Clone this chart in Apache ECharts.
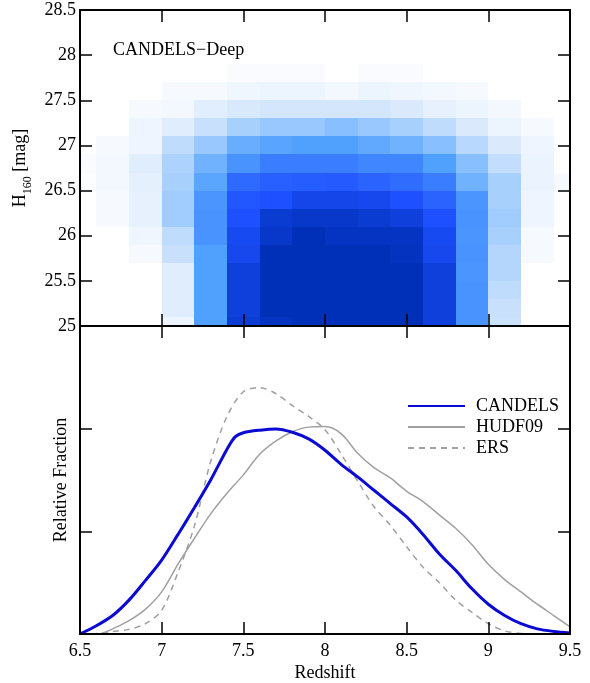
<!DOCTYPE html>
<html>
<head>
<meta charset="UTF-8">
<title>CANDELS redshift</title>
<script src="https://cdn.jsdelivr.net/npm/echarts@6/dist/echarts.min.js"></script>
<style>
  html, body { margin: 0; padding: 0; background: #fff; }
  #main { width: 590px; height: 683px; }
</style>
</head>
<body>
<div id="main"></div>
<script>
// heatmap cell centres (redshift columns, magnitude rows)
var zCenters = [6.5, 6.7, 6.9, 7.1, 7.3, 7.5, 7.7, 7.9, 8.1, 8.3, 8.5, 8.7, 8.9, 9.1, 9.3, 9.5];
var magCenters = [27.8, 27.6, 27.4, 27.2, 27.0, 26.8, 26.6, 26.4, 26.2, 26.0, 25.8, 25.6, 25.4, 25.2, 25.0];
// completeness level per cell, one row per magnitude (0 = white, 5 = darkest)
var levels = [
  [0, 0, 0, 0, 0, 0.15, 0.15, 0.15, 0, 0.15, 0.15, 0, 0, 0, 0, 0],
  [0, 0, 0, 0.2, 0.2, 0.35, 0.45, 0.45, 0.3, 0.45, 0.35, 0.3, 0.2, 0, 0, 0],
  [0, 0, 0.2, 0.3, 0.7, 0.9, 1.0, 1.0, 1.0, 1.0, 0.85, 0.55, 0.45, 0.3, 0, 0],
  [0, 0, 0.4, 0.72, 1.2, 1.73, 2.0, 2.0, 2.22, 2.0, 1.73, 1.33, 0.86, 0.45, 0.2, 0],
  [0, 0.2, 0.4, 1.33, 2.0, 2.67, 2.89, 3.0, 3.0, 2.78, 2.56, 2.22, 1.47, 0.86, 0.4, 0],
  [0.15, 0.3, 0.72, 1.67, 2.56, 3.16, 3.44, 3.44, 3.44, 3.32, 3.32, 3.0, 2.22, 1.3, 0.5, 0],
  [0.1, 0.3, 0.6, 1.73, 2.86, 3.68, 3.8, 3.84, 3.88, 3.76, 3.64, 3.44, 2.56, 1.73, 0.5, 0.2],
  [0, 0.2, 0.55, 1.87, 3.12, 3.92, 4.0, 4.3, 4.3, 4.25, 4.0, 3.76, 3.12, 1.73, 0.4, 0],
  [0, 0.2, 0.55, 1.87, 3.16, 4.0, 4.63, 4.75, 4.75, 4.63, 4.5, 4.0, 3.16, 1.87, 0.4, 0],
  [0, 0, 0.35, 1.33, 3.16, 4.19, 4.75, 5.0, 4.87, 4.87, 4.87, 4.19, 3.12, 1.73, 0.2, 0],
  [0, 0, 0.2, 1.2, 3.0, 4.25, 5.0, 5.0, 5.0, 5.0, 4.9, 4.25, 3.16, 1.53, 0.2, 0],
  [0, 0, 0, 0.72, 3.0, 4.5, 5.0, 5.0, 5.0, 5.0, 5.0, 4.5, 3.12, 1.53, 0, 0],
  [0, 0, 0, 0.72, 3.0, 4.5, 5.0, 5.0, 5.0, 5.0, 5.0, 4.5, 3.16, 1.33, 0, 0],
  [0, 0, 0, 0.72, 3.0, 4.5, 5.0, 5.0, 5.0, 5.0, 5.0, 4.5, 3.16, 1.2, 0, 0],
  [0, 0, 0, 0.45, 3.0, 4.62, 4.87, 5.0, 5.0, 5.0, 5.0, 4.5, 3.16, 1.15, 0, 0]
];

// redshift distributions [z, relative fraction]
var candels = [
  [6.5, 0], [6.6, 0.08], [6.7, 0.18], [6.8, 0.33], [6.9, 0.52], [7.0, 0.72], [7.1, 0.97],
  [7.2, 1.23], [7.3, 1.5], [7.4, 1.8], [7.45, 1.92], [7.5, 1.96], [7.6, 1.985], [7.7, 1.997],
  [7.8, 1.965], [7.9, 1.9], [8.0, 1.79], [8.1, 1.65], [8.2, 1.53], [8.3, 1.4], [8.4, 1.27],
  [8.5, 1.14], [8.6, 0.97], [8.7, 0.78], [8.8, 0.62], [8.9, 0.44], [9.0, 0.29], [9.1, 0.18],
  [9.2, 0.1], [9.3, 0.05], [9.4, 0.025], [9.5, 0.01]
];
var hudf09 = [
  [6.63, 0], [6.7, 0.05], [6.8, 0.13], [6.9, 0.24], [7.0, 0.41], [7.1, 0.68], [7.2, 0.93],
  [7.3, 1.17], [7.4, 1.37], [7.5, 1.55], [7.6, 1.75], [7.7, 1.88], [7.8, 1.97], [7.9, 2.015],
  [8.0, 2.02], [8.1, 1.95], [8.2, 1.76], [8.3, 1.62], [8.4, 1.52], [8.5, 1.39], [8.6, 1.29],
  [8.7, 1.16], [8.8, 1.03], [8.9, 0.87], [9.0, 0.68], [9.1, 0.53], [9.2, 0.41], [9.3, 0.29],
  [9.4, 0.18], [9.5, 0.07]
];
var ers = [
  [6.5, 0], [6.6, 0.005], [6.7, 0.025], [6.8, 0.045], [6.9, 0.1], [7.0, 0.23], [7.1, 0.6],
  [7.2, 1.05], [7.3, 1.68], [7.4, 2.12], [7.5, 2.36], [7.6, 2.4], [7.7, 2.34], [7.8, 2.225],
  [7.9, 2.12], [8.0, 1.99], [8.1, 1.75], [8.2, 1.49], [8.3, 1.24], [8.4, 1.06], [8.5, 0.85],
  [8.6, 0.65], [8.7, 0.5], [8.8, 0.33], [8.9, 0.21], [9.0, 0.1], [9.1, 0.03], [9.2, 0.005],
  [9.3, 0], [9.5, 0]
];

var CELL_W = 0.2, CELL_H = 0.2;
var FONT = 'Liberation Serif';

var cells = [];
magCenters.forEach(function (m, i) {
  zCenters.forEach(function (z, j) {
    if (levels[i][j] > 0) cells.push([z, m, levels[i][j]]);
  });
});

function renderCell(params, api) {
  var x = api.value(0), y = api.value(1);
  var p0 = api.coord([x - CELL_W / 2, y + CELL_H / 2]);
  var p1 = api.coord([x + CELL_W / 2, y - CELL_H / 2]);
  var x0 = Math.round(p0[0]), y0 = Math.round(p0[1]);
  var rect = echarts.graphic.clipRectByRect(
    { x: x0, y: y0, width: Math.round(p1[0]) - x0, height: Math.round(p1[1]) - y0 },
    { x: params.coordSys.x, y: params.coordSys.y, width: params.coordSys.width, height: params.coordSys.height }
  );
  return rect && { type: 'rect', shape: rect, style: { fill: api.visual('color') } };
}

var axisLine = { show: true, onZero: false, lineStyle: { color: '#000', width: 2 } };
var tick = { show: true, inside: true, length: 12, lineStyle: { color: '#000', width: 1.5 } };
var lbl = { fontFamily: FONT, fontSize: 18, color: '#000' };

function xAx(grid, pos, showLabel, extra) {
  return Object.assign({
    type: 'value', gridIndex: grid, position: pos, min: 6.5, max: 9.5, interval: 0.5,
    axisLine: axisLine, axisTick: tick, splitLine: { show: false }, z: 10,
    axisLabel: Object.assign({ show: showLabel, margin: 8, showMinLabel: true, showMaxLabel: true }, lbl)
  }, extra || {});
}
function yAx(grid, pos, min, max, interval, showLabel, extra) {
  return Object.assign({
    type: 'value', gridIndex: grid, position: pos, min: min, max: max, interval: interval,
    axisLine: axisLine, axisTick: tick, splitLine: { show: false }, z: 10,
    axisLabel: Object.assign({ show: showLabel, margin: 4, showMinLabel: true, showMaxLabel: true }, lbl)
  }, extra || {});
}

var lineCommon = { xAxisIndex: 2, yAxisIndex: 2, smooth: 0.3, symbol: 'none' };

var chart = echarts.init(document.getElementById('main'));
chart.setOption({
  animation: false,
  backgroundColor: '#fff',
  title: {
    text: 'CANDELS\u2212Deep', left: 108, top: 36,
    textStyle: { fontFamily: FONT, fontSize: 18, fontWeight: 'normal', color: '#000' }
  },
  grid: [
    { left: 80, top: 10, width: 490, height: 316 },
    { left: 80, top: 326, width: 490, height: 316 }
  ],
  xAxis: [
    xAx(0, 'bottom', false),
    xAx(0, 'top', false),
    xAx(1, 'bottom', true, {
      name: 'Redshift', nameLocation: 'middle', nameGap: 30,
      nameTextStyle: { fontFamily: FONT, fontSize: 18, color: '#000' }
    }),
    xAx(1, 'top', false)
  ],
  yAxis: [
    yAx(0, 'left', 25, 28.5, 0.5, true, {
      name: 'H{sub|160} [mag]', nameLocation: 'middle', nameRotate: 90, nameGap: 44,
      nameTextStyle: {
        fontFamily: FONT, fontSize: 18, color: '#000',
        rich: { sub: { fontFamily: FONT, fontSize: 12, color: '#000', padding: [14, 0, 0, 0] } }
      }
    }),
    yAx(0, 'right', 25, 28.5, 0.5, false),
    yAx(1, 'left', 0, 3, 1, false, {
      name: 'Relative Fraction', nameLocation: 'middle', nameRotate: 90, nameGap: 10,
      nameTextStyle: { fontFamily: FONT, fontSize: 18, color: '#000' }
    }),
    yAx(1, 'right', 0, 3, 1, false)
  ],
  visualMap: {
    show: false, type: 'continuous', seriesIndex: 0, dimension: 2, min: 0, max: 5,
    inRange: { color: ['#ffffff', '#d4e6fc', '#98c8fe', '#50a0fe', '#1e50ff', '#0030b8'] }
  },
  legend: {
    orient: 'vertical', left: 402, top: 392, itemWidth: 57, itemHeight: 14, itemGap: 3,
    data: ['CANDELS', 'HUDF09', 'ERS'],
    itemStyle: { opacity: 0 },
    textStyle: { fontFamily: FONT, fontSize: 18, color: '#000', padding: [0, 0, 0, 6] }
  },
  series: [
    {
      type: 'custom', name: 'completeness', xAxisIndex: 0, yAxisIndex: 0,
      renderItem: renderCell, data: cells, z: 1
    },
    Object.assign({
      type: 'line', name: 'CANDELS', data: candels, z: 5,
      lineStyle: { color: '#0a0ad2', width: 3 }, itemStyle: { color: '#0a0ad2' }
    }, lineCommon),
    Object.assign({
      type: 'line', name: 'HUDF09', data: hudf09, z: 4,
      lineStyle: { color: '#a0a0a0', width: 1.5 }, itemStyle: { color: '#a0a0a0' }
    }, lineCommon),
    Object.assign({
      type: 'line', name: 'ERS', data: ers, z: 4,
      lineStyle: { color: '#a0a0a0', width: 1.5, type: [6, 5] }, itemStyle: { color: '#a0a0a0' }
    }, lineCommon)
  ]
});
</script>
</body>
</html>
